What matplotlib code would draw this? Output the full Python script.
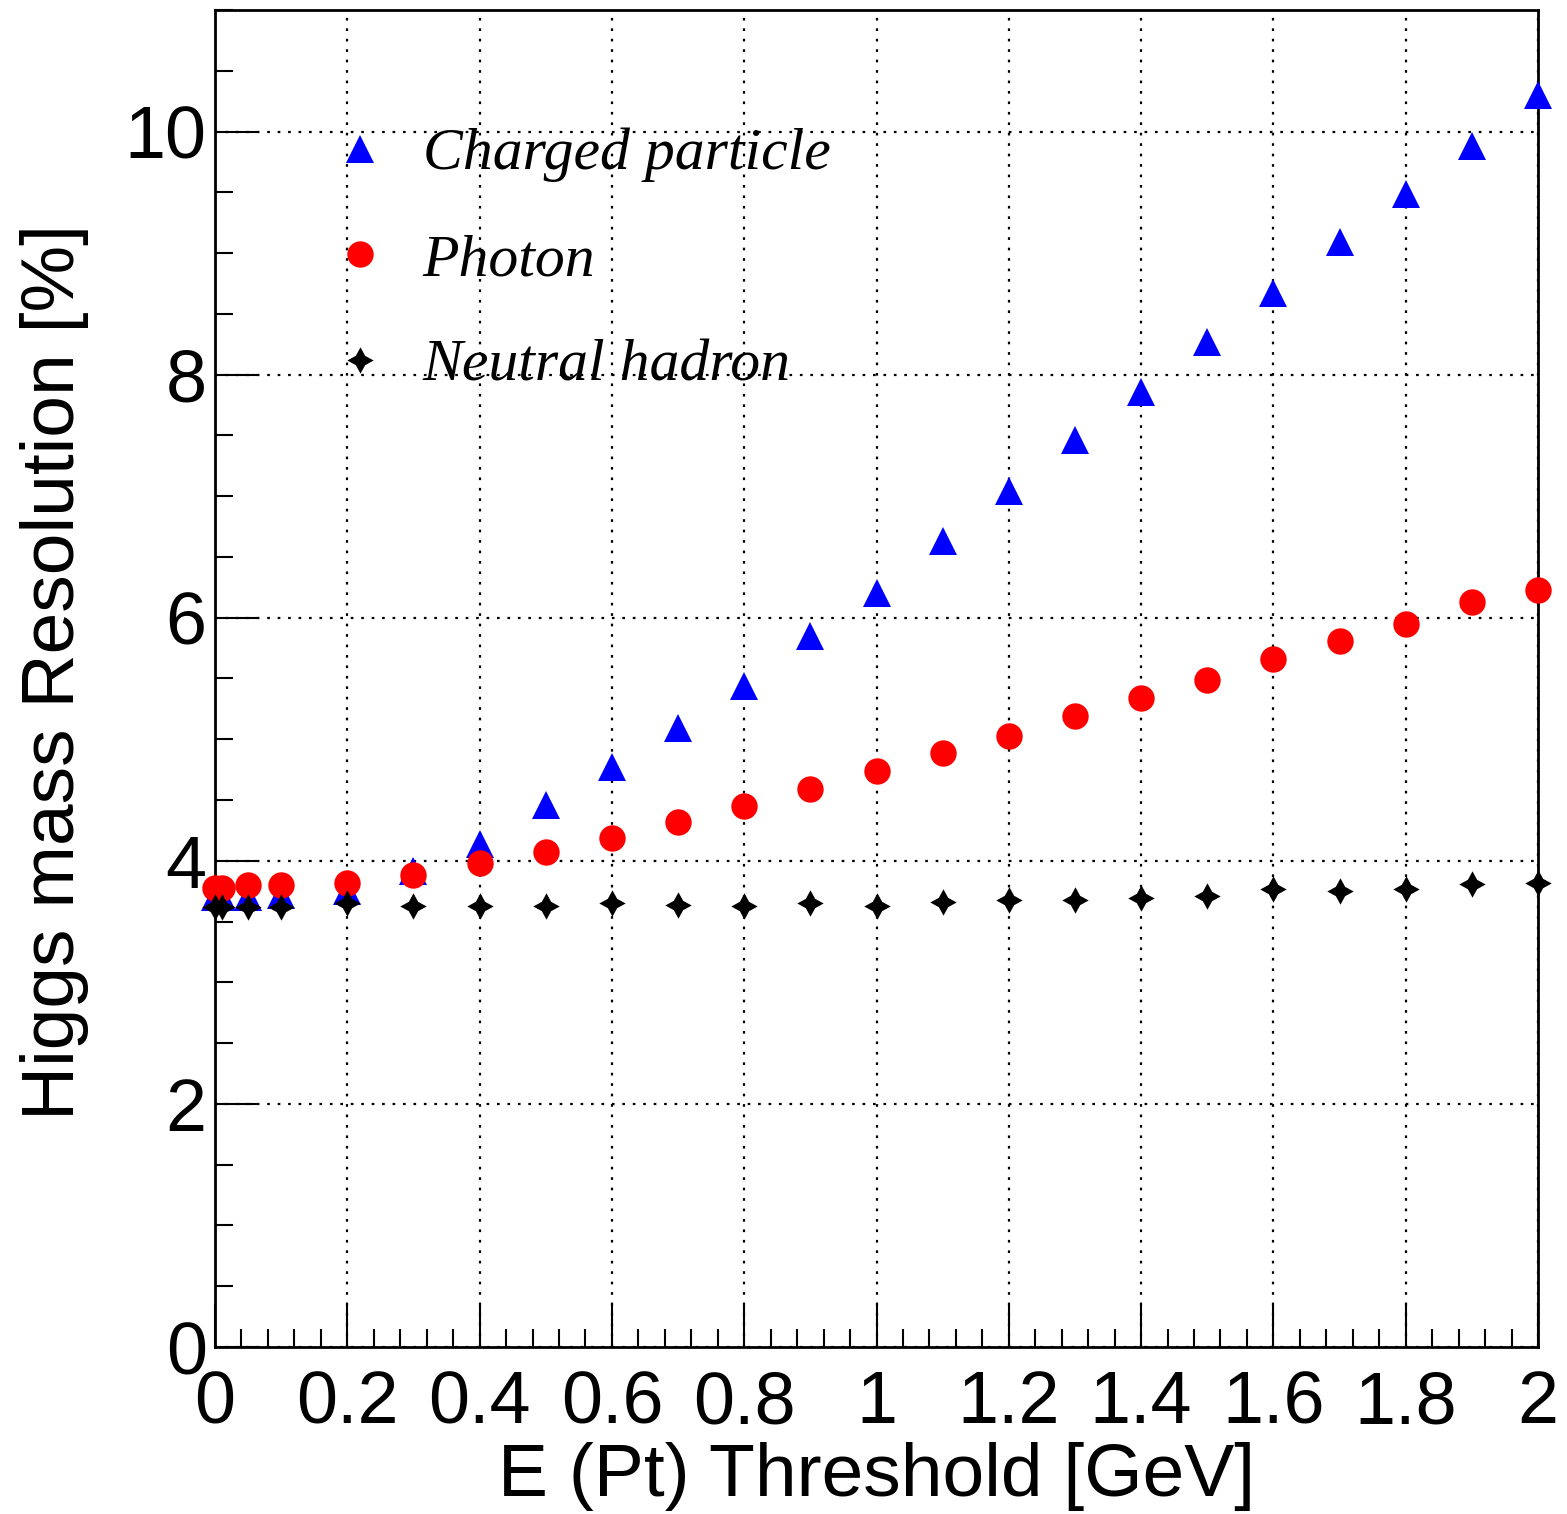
import numpy as np
import matplotlib
matplotlib.use('Agg')
import matplotlib.pyplot as plt
from matplotlib.ticker import MultipleLocator

# threshold values [GeV]
thr = [0.0, 0.01, 0.05, 0.1, 0.2, 0.3, 0.4, 0.5, 0.6, 0.7, 0.8, 0.9, 1.0,
       1.1, 1.2, 1.3, 1.4, 1.5, 1.6, 1.7, 1.8, 1.9, 2.0]

charged = [3.70, 3.70, 3.70, 3.72, 3.75, 3.92, 4.14, 4.46, 4.77, 5.09, 5.44, 5.85, 6.20,
           6.63, 7.04, 7.46, 7.86, 8.27, 8.67, 9.09, 9.49, 9.88, 10.30]
photon = [3.78, 3.78, 3.80, 3.80, 3.82, 3.88, 3.98, 4.07, 4.19, 4.32, 4.45, 4.59, 4.74,
          4.89, 5.03, 5.19, 5.34, 5.49, 5.66, 5.81, 5.95, 6.13, 6.23]
neutral = [3.62, 3.62, 3.62, 3.62, 3.65, 3.63, 3.63, 3.63, 3.65, 3.64, 3.63, 3.65, 3.63,
           3.66, 3.68, 3.68, 3.69, 3.71, 3.77, 3.75, 3.77, 3.81, 3.82]

labels = ['Charged particle', 'Photon', 'Neutral hadron']
xticklabels = ['0', '0.2', '0.4', '0.6', '0.8', '1', '1.2', '1.4', '1.6', '1.8', '2']

plt.rcParams['font.family'] = ['Liberation Sans', 'DejaVu Sans']

fig = plt.figure(figsize=(15.67, 15.14), dpi=100)
ax = fig.add_axes([0.1372, 0.1103, 0.8443, 0.8831])

ax.plot(thr, charged, '^', color='blue', ms=20, mew=0, label=labels[0], zorder=3, clip_on=False)
ax.plot(thr, photon, 'o', color='red', ms=19, mew=0, label=labels[1], zorder=4, clip_on=False)
ax.plot(thr, neutral, marker=(4, 1, 0), ls='none', color='black', ms=19, mew=0,
        label=labels[2], zorder=5, clip_on=False)

ax.set_xlim(0, 2)
ax.set_ylim(0, 11)
ax.xaxis.set_minor_locator(MultipleLocator(0.04))
ax.yaxis.set_minor_locator(MultipleLocator(0.5))
ax.set_xticks(np.arange(0, 2.01, 0.2))
ax.set_xticklabels(xticklabels)
ax.set_yticks([0, 2, 4, 6, 8, 10])
ax.set_yticklabels(['0', '2', '4', '6', '8', '10'])

ax.grid(True, which='major', ls=(0, (1.2, 3.5)), color='black', lw=1.6)
ax.tick_params(which='major', direction='in', length=31, width=1.5, labelsize=53)
ax.tick_params(axis='x', which='major', pad=16)
ax.tick_params(axis='y', which='major', pad=6)
ax.tick_params(which='minor', direction='in', length=13, width=1.5)
for s in ax.spines.values():
    s.set_linewidth(2)

ax.set_xlabel('E (Pt) Threshold [GeV]', fontsize=54, labelpad=3)
ax.set_ylabel('Higgs mass Resolution [%]', fontsize=54)
ax.yaxis.set_label_coords(-0.095, 0.505)

leg = ax.legend(loc='upper left', bbox_to_anchor=(0.087, 0.912), frameon=False,
                prop={'family': 'Liberation Serif', 'style': 'italic', 'size': 43},
                handletextpad=0.55, labelspacing=0.85, handlelength=1.0,
                borderpad=0, borderaxespad=0)

fig.savefig('out.png', dpi=100)
